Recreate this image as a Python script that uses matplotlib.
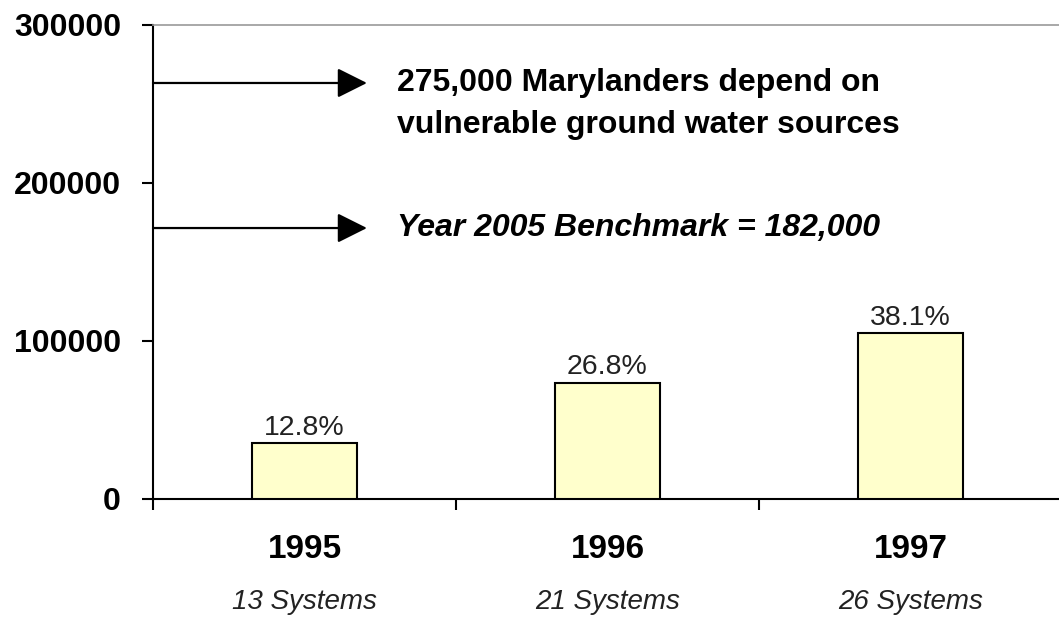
import matplotlib
matplotlib.use("Agg")
import matplotlib.pyplot as plt
import matplotlib.transforms as mtransforms

plt.rcParams['font.family'] = ['Liberation Sans', 'DejaVu Sans']

# data
years = ['1995', '1996', '1997']
systems = ['13 Systems', '21 Systems', '26 Systems']
served = [35200, 73700, 104800]
pct_labels = ['12.8%', '26.8%', '38.1%']

yticks = [0, 100000, 200000, 300000]

# annotation lines
note_top = '275,000 Marylanders depend on\nvulnerable ground water sources'
note_top_y = 263300
note_top_text_y = 250000
note_bench = 'Year 2005 Benchmark = 182,000'
note_bench_y = 171500

fig = plt.figure(figsize=(10.59, 6.22), dpi=100)
ax = fig.add_axes([153/1059, 123/622, 909/1059, 474/622])

x = list(range(len(years)))
bars = ax.bar(x, served, width=0.345, color='#FFFFCC', edgecolor='black', linewidth=1.5, zorder=3)
ax.bar_label(bars, labels=pct_labels, padding=2, fontsize=20.5, color='#222222')

ax.set_xlim(-0.5, 2.5)
ax.set_ylim(0, 300000)
ax.set_yticks(yticks)
ax.set_yticklabels([str(v) for v in yticks], fontsize=23, fontweight='bold')
ax.tick_params(axis='y', length=8, width=1.5, pad=15, direction='out')

# x: tick marks at category boundaries, labels drawn as text
ax.set_xticks([-0.5, 0.5, 1.5, 2.5])
ax.set_xticklabels([])
ax.tick_params(axis='x', length=8, width=1.5, direction='out')

ax.spines['left'].set_linewidth(1.5)
ax.spines['bottom'].set_linewidth(1.5)
ax.spines['right'].set_visible(False)
ax.spines['top'].set_color('#999999')
ax.spines['top'].set_linewidth(1.2)

trans = mtransforms.blended_transform_factory(ax.transData, ax.transAxes)
for xi, yr, sy in zip(x, years, systems):
    ax.annotate(yr, xy=(xi, 0), xycoords=trans, xytext=(0, -36), textcoords='offset points',
                ha='center', va='center', fontsize=24, fontweight='bold')
    ax.annotate(sy, xy=(xi, 0), xycoords=trans, xytext=(0, -74), textcoords='offset points',
                ha='center', va='center', fontsize=20, fontstyle='italic', color='#222222')

# arrows from the axis with notes
for yv in (note_top_y, note_bench_y):
    ax.annotate('', xy=(0.206, yv), xytext=(-0.5, yv),
                arrowprops=dict(arrowstyle='-|>,head_length=0.8,head_width=0.4', mutation_scale=23,
                                color='black', lw=1.6, shrinkA=0, shrinkB=0))

ax.text(0.305, note_top_text_y, note_top, ha='left', va='center', fontsize=23, fontweight='bold',
        linespacing=1.55)
ax.text(0.305, note_bench_y, note_bench, ha='left', va='center', fontsize=23,
        fontweight='bold', fontstyle='italic')

plt.savefig('out.png', dpi=100)
